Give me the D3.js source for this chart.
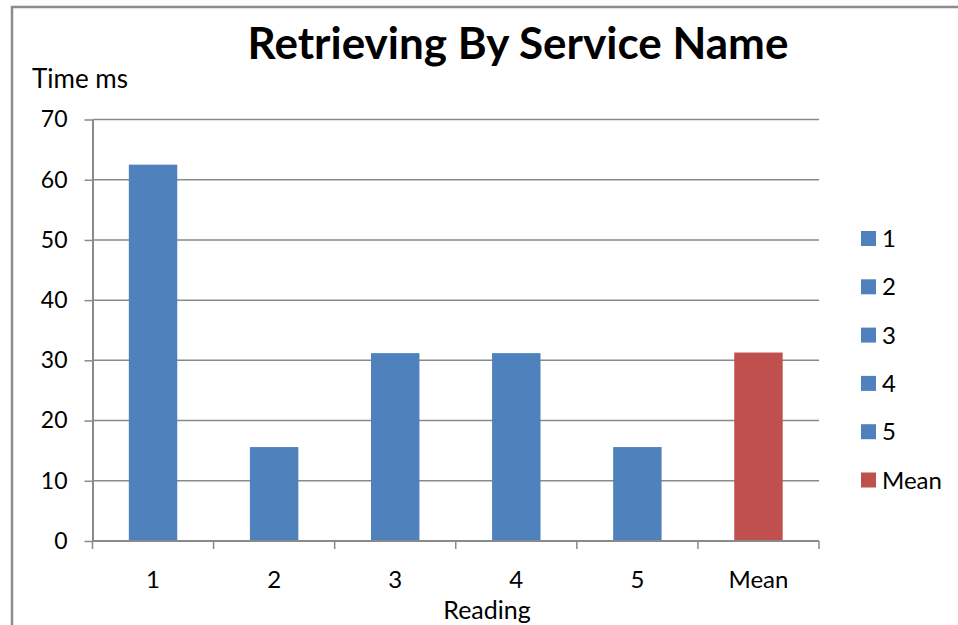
<!DOCTYPE html>
<html>
<head>
<meta charset="utf-8">
<script src="https://cdn.jsdelivr.net/npm/d3@7"></script>
<style>
  html, body { margin: 0; padding: 0; background: #fff; }
  svg { display: block; font-family: "Lato", "Open Sans", sans-serif; }
</style>
</head>
<body>
<svg id="chart" width="958" height="625"></svg>
<script>
// Retrieval timings by reading, plus their mean
const categories = ["1", "2", "3", "4", "5", "Mean"];
const values = [62.5, 15.6, 31.2, 31.2, 15.6, 31.3];
const colors = ["#4F81BD", "#4F81BD", "#4F81BD", "#4F81BD", "#4F81BD", "#C0504D"];
const yTicks = [0, 10, 20, 30, 40, 50, 60, 70];
const titleText = "Retrieving By Service Name";
const yTitle = "Time ms";
const xTitle = "Reading";

const svg = d3.select("#chart");
const plot = { left: 92.5, right: 819, top: 119.5, bottom: 541 };

// Chart frame
svg.append("rect")
  .attr("x", 12).attr("y", 7)
  .attr("width", 1000).attr("height", 700)
  .attr("fill", "#fff")
  .attr("stroke", "#8c8c8c")
  .attr("stroke-width", 2.5);

const x = d3.scaleBand()
  .domain(categories)
  .range([plot.left, plot.right])
  .paddingInner(0.6)
  .paddingOuter(0.3);

const xEdges = d3.scaleBand()
  .domain(categories)
  .range([plot.left, plot.right]);

const y = d3.scaleLinear()
  .domain([0, 70])
  .range([plot.bottom, plot.top]);

// Horizontal gridlines
svg.append("g")
  .selectAll("line")
  .data(yTicks.filter(d => d > 0))
  .join("line")
  .attr("x1", plot.left).attr("x2", plot.right)
  .attr("y1", d => y(d)).attr("y2", d => y(d))
  .attr("stroke", "#8a8a8a")
  .attr("stroke-width", 1.5);

// Bars
svg.append("g")
  .selectAll("rect")
  .data(categories)
  .join("rect")
  .attr("x", d => x(d))
  .attr("width", x.bandwidth())
  .attr("y", (d, i) => y(values[i]))
  .attr("height", (d, i) => y(0) - y(values[i]))
  .attr("fill", (d, i) => colors[i]);

// Y axis
const yAxis = svg.append("g")
  .attr("transform", `translate(${plot.left},0)`)
  .call(d3.axisLeft(y).tickValues(yTicks).tickSize(8).tickPadding(17).tickSizeOuter(0));
yAxis.select(".domain").attr("stroke", "#8a8a8a").attr("stroke-width", 2);
yAxis.selectAll(".tick line").attr("stroke", "#8a8a8a").attr("stroke-width", 1.5);
yAxis.selectAll(".tick text")
  .attr("fill", "#000")
  .style("font-size", "23px")
  .style("font-family", "Lato, sans-serif");

// X axis: line at zero with tick marks at category boundaries
const xAxis = svg.append("g");
xAxis.append("line")
  .attr("x1", plot.left).attr("x2", plot.right)
  .attr("y1", y(0)).attr("y2", y(0))
  .attr("stroke", "#8a8a8a").attr("stroke-width", 2);
const edges = categories.map(c => xEdges(c)).concat([plot.right]);
xAxis.selectAll("line.edge")
  .data(edges)
  .join("line")
  .attr("class", "edge")
  .attr("x1", d => d).attr("x2", d => d)
  .attr("y1", y(0)).attr("y2", y(0) + 8)
  .attr("stroke", "#8a8a8a").attr("stroke-width", 1.5);
xAxis.selectAll("text")
  .data(categories)
  .join("text")
  .attr("x", d => x(d) + x.bandwidth() / 2)
  .attr("y", 588)
  .attr("text-anchor", "middle")
  .style("font-size", "24px")
  .text(d => d);

// Titles
svg.append("text")
  .attr("x", 518).attr("y", 59)
  .attr("text-anchor", "middle")
  .style("font-size", "44px")
  .style("font-weight", "bold")
  .text(titleText);

svg.append("text")
  .attr("x", 32).attr("y", 88)
  .style("font-size", "26px")
  .text(yTitle);

svg.append("text")
  .attr("x", 487).attr("y", 619)
  .attr("text-anchor", "middle")
  .style("font-size", "25px")
  .text(xTitle);

// Legend
const legend = svg.append("g")
  .selectAll("g")
  .data(categories)
  .join("g")
  .attr("transform", (d, i) => `translate(861, ${231 + i * 48.3})`);
legend.append("rect")
  .attr("width", 15).attr("height", 15)
  .attr("fill", (d, i) => colors[i]);
legend.append("text")
  .attr("x", 21).attr("y", 16)
  .style("font-size", "24px")
  .text(d => d);
</script>
</body>
</html>
